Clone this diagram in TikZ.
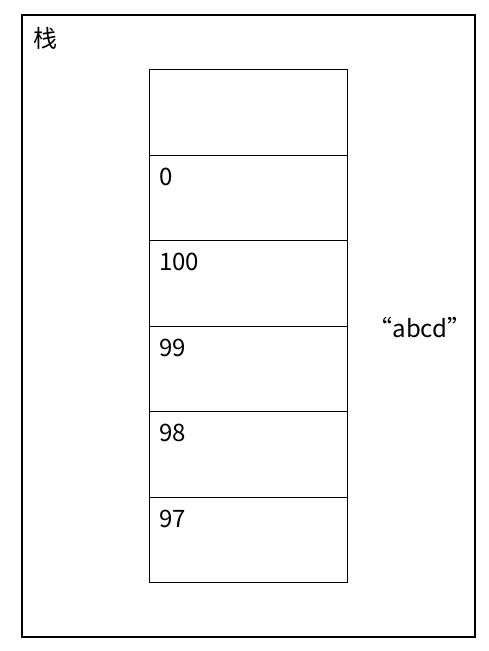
\documentclass[tikz,border=0pt]{standalone}
\usepackage{fontspec}
\setmainfont{Noto Sans CJK SC}
\begin{document}
\begin{tikzpicture}[x=1pt,y=-1pt,
  cellbox/.style={draw,line width=1.1pt,minimum width=198pt,minimum height=85.5pt,inner sep=0pt,anchor=north west},
  lbl/.style={font=\fontsize{24}{28}\selectfont,anchor=west,inner sep=0pt}]
\useasboundingbox (0,0) rectangle (488,651);
\draw[line width=1.1pt] (22,15) rectangle (475,637);
\node[lbl] (title) at (33,38) {栈};
\foreach \i in {0,...,5}{
  \node[cellbox] (c\i) at (149,{69+85.5*\i}) {};
}
\node[lbl] (v1) at (159,177) {0};
\node[lbl] (v2) at (159,262) {100};
\node[lbl] (v3) at (159,348) {99};
\node[lbl] (v4) at (159,433) {98};
\node[lbl] (v5) at (159,519) {97};
\node[lbl,anchor=center] (str) at (420,327) {“abcd”};
\end{tikzpicture}
\end{document}
